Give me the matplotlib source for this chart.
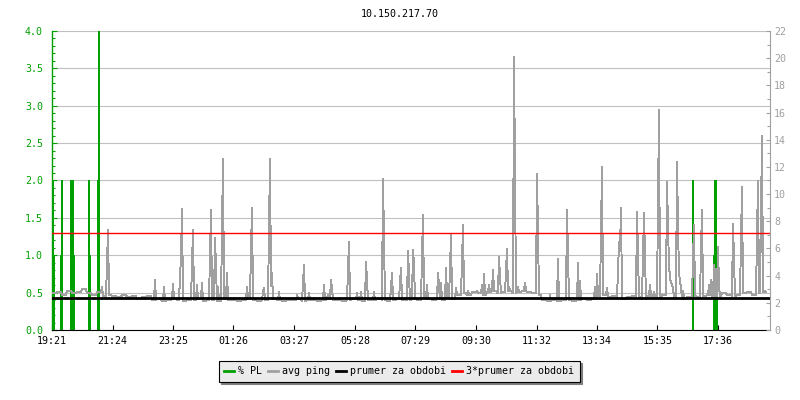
import numpy as np
import matplotlib
matplotlib.use("Agg")
import matplotlib.pyplot as plt
from matplotlib.lines import Line2D
from matplotlib.ticker import MultipleLocator

# ─── Data (minutes since 19:21, sample step 2 min) ───────────────────────────
step_min = 2
tick_minutes = [0, 121, 242, 363, 484, 606, 727, 848, 969, 1090, 1211, 1332]
tick_labels = ["19:21", "21:24", "23:25", "01:26", "03:27", "05:28",
               "07:29", "09:30", "11:32", "13:34", "15:35", "17:36"]

# baseline avg ping [ms], one value per 10-minute block
ping_base = [
    2.7, 2.8, 2.6, 2.9, 2.7, 2.8, 3.0, 2.7, 2.6, 2.8, 2.5, 2.6,
    2.5, 2.4, 2.6, 2.4, 2.5, 2.3, 2.4, 2.5,
    2.2, 2.3, 2.1, 2.2, 2.3, 2.2, 2.1, 2.2, 2.2, 2.3, 2.1, 2.2, 2.2,
    2.1, 2.3, 2.2, 2.2, 2.1, 2.2, 2.3, 2.2, 2.1, 2.2, 2.2, 2.3, 2.2,
    2.1, 2.2, 2.2, 2.3, 2.1, 2.2, 2.2, 2.1, 2.2, 2.3, 2.2, 2.2, 2.1,
    2.2, 2.3, 2.2, 2.1, 2.2, 2.2, 2.3, 2.2, 2.1, 2.2, 2.3, 2.2, 2.2,
    2.3, 2.2, 2.4, 2.3, 2.2, 2.3, 2.2, 2.4, 2.3,
    2.6, 2.7, 2.6, 2.8, 2.7, 2.6, 2.8, 2.9, 2.7, 2.8, 2.9, 2.7, 2.8,
    2.9, 2.8, 2.7, 2.6,
    2.2, 2.1, 2.2, 2.1, 2.2, 2.2, 2.1, 2.2, 2.3, 2.2, 2.3,
    2.5, 2.6, 2.4, 2.5, 2.4, 2.3, 2.4, 2.5, 2.4, 2.3, 2.5, 2.4, 2.4,
    2.6, 2.5, 2.4, 2.5, 2.3, 2.4, 2.5, 2.4, 2.5, 2.6, 2.4, 2.5, 2.7,
    2.6, 2.5, 2.6, 2.7, 2.8, 2.6, 2.7, 2.8,
]

# ping peaks: time [min], value [ms]
spike_min = [
    100, 110, 112, 206, 224, 242, 256, 258, 260, 280, 282, 290, 300,
    316, 318, 326, 328, 332, 340, 342, 350,
    390, 398, 400, 422, 424, 434, 436, 438, 440, 454, 490, 502, 504,
    514, 544, 552, 558, 560, 592, 594, 610, 618, 628, 630, 644,
    662, 664, 678, 680, 696, 698, 712, 714,
    722, 724, 740, 742, 750, 772, 774, 778, 788, 796, 798, 808,
    820, 822, 832, 850, 860, 864, 874, 882, 894, 896, 908, 910, 914,
    924, 926, 932, 946, 970, 972, 996, 1012, 1030, 1032, 1052, 1056,
    1086, 1090, 1098, 1100, 1110, 1132, 1134, 1136, 1138, 1170, 1172,
    1182, 1184, 1186, 1196, 1204, 1212, 1214,
    1230, 1232, 1234, 1236, 1238, 1240, 1242,
    1250, 1252, 1254, 1256, 1258, 1262, 1282, 1284, 1298, 1300,
    1314, 1318, 1324, 1328, 1332, 1334, 1362, 1364, 1378, 1380,
    1394, 1410, 1412, 1418, 1420, 1426,
]
spike_ms = [
    3.2, 4.8, 7.4, 3.7, 3.2, 3.4, 3.9, 5.4, 8.9, 4.8, 7.4, 3.3, 3.5,
    5.5, 8.8, 6.8, 4.6, 3.2, 7.4, 12.6, 4.2,
    3.2, 5.9, 9.0, 2.8, 3.1, 7.4, 12.6, 3.2, 4.2, 2.8, 2.6, 3.5, 4.8,
    2.7, 3.3, 2.6, 3.7, 3.0, 4.3, 6.5, 2.7, 2.8, 5.0, 3.6, 2.8,
    11.1, 6.8, 3.2, 4.2, 3.4, 4.6, 5.8, 4.0,
    5.9, 4.8, 5.5, 8.5, 3.3, 4.2, 3.2, 3.5, 4.6, 4.5, 7.0, 3.1,
    5.0, 7.7, 2.9, 2.9, 3.3, 4.1, 3.3, 4.4, 5.4, 3.9, 4.3, 6.0, 3.2,
    20.1, 11.3, 3.2, 3.5, 11.5, 7.2, 2.6, 5.2, 8.8, 5.5, 4.9, 3.6,
    3.2, 4.1, 7.4, 12.0, 3.1, 4.3, 6.5, 5.9, 9.0, 8.7, 5.5,
    5.5, 8.6, 5.4, 3.3, 2.8, 9.1, 16.2,
    10.9, 7.5, 4.8, 3.8, 3.5, 3.3, 3.1,
    12.4, 7.4, 4.3, 3.5, 3.2, 2.9, 5.0, 7.7, 5.9, 8.8,
    3.3, 3.7, 4.8, 4.5, 6.1, 3.2, 7.8, 5.0, 6.4, 10.5,
    2.8, 6.7, 11.0, 8.3, 14.3, 2.9,
]

# packet loss [%]
pl_min = [2, 4, 18, 20, 38, 40, 42, 44, 74, 76, 92, 94,
          1282, 1324, 1326, 1328, 1330]
pl_pct = [2, 1, 1, 2, 2, 1, 2, 1, 2, 1, 2, 4,
          2, 1, 2, 2, 1]

mean_ping = 2.39          # "prumer za obdobi" [ms]

# ─── Build ping series ───────────────────────────────────────────────────────
ping = np.repeat(np.array(ping_base), 5)
for m, v in zip(spike_min, spike_ms):
    ping[m // step_min] = v
t = np.arange(len(ping)) * step_min

GREEN = "#00a000"
GRAY = "#a0a0a0"
FONT = "DejaVu Sans Mono"
FS = 7.2
plt.rcParams["font.family"] = FONT
plt.rcParams["font.size"] = FS

fig = plt.figure(figsize=(8, 4), dpi=100)
ax = fig.add_axes([0.065, 0.175, 0.8975, 0.7475])
ax2 = ax.twinx()

# % PL impulses (left axis)
ax.vlines(pl_min, 0, pl_pct, color=GREEN, lw=1.3, antialiased=False, zorder=2)
ax.set_xlim(0, 1436)
ax.set_ylim(0, 4)
ax.yaxis.set_major_locator(MultipleLocator(0.5))
ax.yaxis.set_minor_locator(MultipleLocator(0.1))
ax.yaxis.set_major_formatter(matplotlib.ticker.FormatStrFormatter("%.1f"))
ax.yaxis.grid(True, color="#c0c0c0", lw=0.8)
ax.set_axisbelow(True)
ax.set_xticks(tick_minutes, tick_labels)
ax.tick_params(axis="y", which="major", direction="in", length=3.6,
               width=0.8, colors=GREEN, pad=6.5)
ax.tick_params(axis="y", which="minor", direction="in", length=2.2,
               width=0.8, colors=GREEN)
ax.tick_params(axis="x", direction="in", length=3.6, width=0.8,
               colors="black", pad=4)
ax.spines["top"].set_visible(False)
ax.spines["right"].set_visible(False)
ax.spines["left"].set_color(GREEN)
ax.spines["left"].set_linewidth(1.0)
ax.spines["bottom"].set_linewidth(0.8)

# avg ping, mean and 3*mean (right axis)
ax2.plot(t, ping, color=GRAY, lw=0.7, antialiased=False, zorder=3)
ax2.axhline(mean_ping, color="black", lw=2.0, zorder=4)
ax2.axhline(3 * mean_ping, color="#ff0000", lw=1.0, zorder=5)
ax2.set_ylim(0, 22)
ax2.yaxis.set_major_locator(MultipleLocator(2))
ax2.yaxis.set_minor_locator(MultipleLocator(1))
ax2.tick_params(axis="y", which="major", direction="in", length=3.0,
                width=0.8, colors=GRAY, pad=3)
ax2.tick_params(axis="y", which="minor", direction="in", length=2.2,
                width=0.8, colors=GRAY)
for s in ("top", "left", "bottom"):
    ax2.spines[s].set_visible(False)
ax2.spines["right"].set_color(GRAY)
ax2.spines["right"].set_linewidth(0.8)

fig.text(0.5, 0.965, "10.150.217.70", ha="center", va="center", fontsize=FS)

handles = [Line2D([], [], color=GREEN, lw=2),
           Line2D([], [], color=GRAY, lw=2),
           Line2D([], [], color="black", lw=2),
           Line2D([], [], color="#ff0000", lw=2)]
labels = ["% PL", "avg ping", "prumer za obdobi", "3*prumer za obdobi"]
leg = fig.legend(handles, labels, loc="center", bbox_to_anchor=(0.499, 0.0725),
                 ncol=4, frameon=True, fancybox=False, edgecolor="black",
                 facecolor="#ebebeb", framealpha=1,
                 shadow={"color": "#808080", "alpha": 1},
                 handlelength=1.0, handletextpad=0.4, columnspacing=0.6,
                 borderpad=0.55, fontsize=FS)
leg.get_frame().set_linewidth(0.8)

fig.savefig("out.png", dpi=100)
